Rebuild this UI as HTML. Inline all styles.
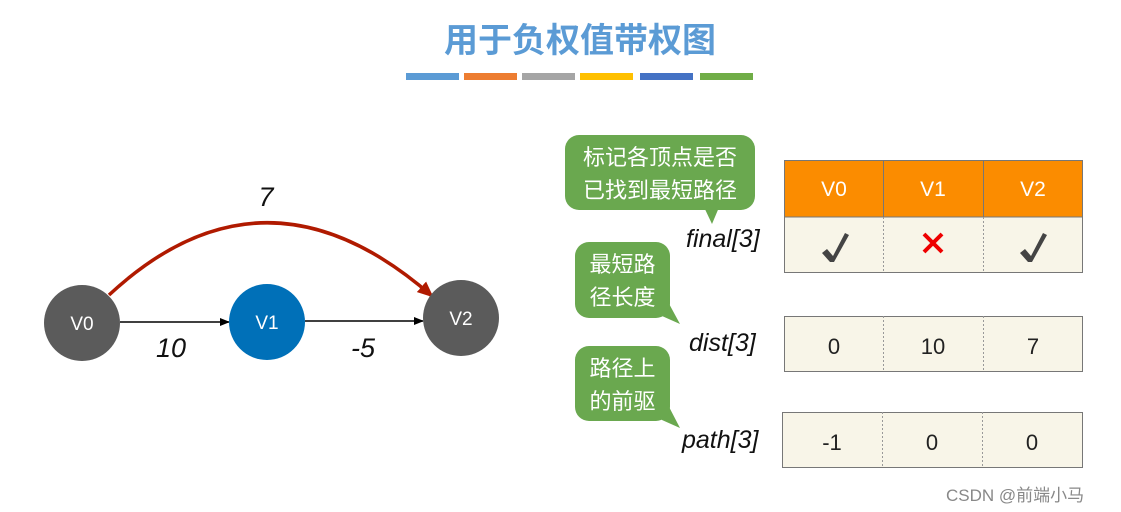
<!DOCTYPE html>
<html><head><meta charset="utf-8"><style>
body{margin:0;width:1121px;height:512px;background:#fff;position:relative;overflow:hidden;font-family:"Liberation Sans","Noto Sans CJK SC",sans-serif}
.a{position:absolute}
.bar{position:absolute;top:73px;height:7px;width:53px}
.bub{position:absolute;background:#6aa84f;color:#fff;border-radius:14px;font-size:22px;line-height:33px;text-align:center;font-family:"Noto Sans CJK SC",sans-serif}
.lbl{position:absolute;font-style:italic;font-size:25px;color:#111}
</style></head><body>
<div class="a" style="left:0;width:1160px;top:13px;text-align:center;font-size:34px;font-weight:bold;color:#5b9bd5;font-family:'Noto Sans CJK SC',sans-serif">用于负权值带权图</div>
<div class="bar" style="left:406px;background:#5b9bd5"></div>
<div class="bar" style="left:464px;background:#ed7d31"></div>
<div class="bar" style="left:522px;background:#a5a5a5"></div>
<div class="bar" style="left:580px;background:#ffc000"></div>
<div class="bar" style="left:640px;background:#4472c4"></div>
<div class="bar" style="left:700px;background:#70ad47"></div>

<svg class="a" style="left:0;top:0" width="1121" height="512">
<defs>
<marker id="k" markerWidth="10" markerHeight="8" refX="9" refY="4" orient="auto" markerUnits="userSpaceOnUse"><path d="M0,0L10,4L0,8z" fill="#000"/></marker>
<marker id="r" markerWidth="16" markerHeight="14" refX="14" refY="7" orient="auto" markerUnits="userSpaceOnUse"><path d="M0,0L16,7L0,14z" fill="#b01a00"/></marker>
</defs>
<path d="M109,295 Q265,150 432,296" fill="none" stroke="#b01a00" stroke-width="3.5" marker-end="url(#r)"/>
<line x1="120" y1="322" x2="229" y2="322" stroke="#000" stroke-width="1.5" marker-end="url(#k)"/>
<line x1="305" y1="321" x2="423" y2="321" stroke="#000" stroke-width="1.5" marker-end="url(#k)"/>
<circle cx="82" cy="323" r="38" fill="#5b5b5b"/>
<circle cx="267" cy="322" r="38" fill="#0070b8"/>
<circle cx="461" cy="318" r="38" fill="#5b5b5b"/>
<g font-family="Liberation Sans" font-size="19" fill="#fff" text-anchor="middle">
<text x="82" y="330">V0</text><text x="267" y="329">V1</text><text x="461" y="325">V2</text></g>
<g font-family="Liberation Sans" font-size="27" font-style="italic" fill="#111" text-anchor="middle">
<text x="266" y="206">7</text><text x="171" y="357">10</text><text x="363" y="357">-5</text></g>
<rect x="784" y="160" width="299" height="57" fill="#fb8c00"/>
<rect x="784" y="217" width="299" height="56" fill="#f8f5e8"/>
<rect x="784" y="316" width="299" height="56" fill="#f8f5e8"/>
<rect x="782" y="412" width="301" height="56" fill="#f8f5e8"/>
<g stroke="#777" stroke-width="1" fill="none">
<rect x="784.5" y="160.5" width="298" height="112"/>
<line x1="784" y1="217" x2="1083" y2="217"/>
<rect x="784.5" y="316.5" width="298" height="55"/>
<rect x="782.5" y="412.5" width="300" height="55"/>
<line x1="883.5" y1="160" x2="883.5" y2="217"/><line x1="983.5" y1="160" x2="983.5" y2="217"/>
</g>
<g stroke="#999" stroke-width="1" stroke-dasharray="2,2">
<line x1="883.5" y1="217" x2="883.5" y2="273"/><line x1="983.5" y1="217" x2="983.5" y2="273"/>
<line x1="883.5" y1="316" x2="883.5" y2="372"/><line x1="983.5" y1="316" x2="983.5" y2="372"/>
<line x1="882.5" y1="412" x2="882.5" y2="468"/><line x1="982.5" y1="412" x2="982.5" y2="468"/>
</g>
<g font-family="Liberation Sans" font-size="21" fill="#fff" text-anchor="middle">
<text x="834" y="196">V0</text><text x="933" y="196">V1</text><text x="1033" y="196">V2</text></g>
<g font-family="Liberation Sans" font-size="22" fill="#222" text-anchor="middle">
<text x="834" y="354">0</text><text x="933" y="354">10</text><text x="1033" y="354">7</text>
<text x="832" y="450">-1</text><text x="932" y="450">0</text><text x="1032" y="450">0</text></g>
<path d="M822,253 L827,249 L833,256 L845,233 L849,235 L834,262 L830,262z" fill="#444"/>
<path d="M1020,253 L1025,249 L1031,256 L1043,233 L1047,235 L1032,262 L1028,262z" fill="#444"/>
<path d="M924,234 L942,252 M942,234 L924,252" stroke="#e00" stroke-width="4"/>
<path d="M703,205 L720,205 L712,224z" fill="#6aa84f"/>
<path d="M650,300 L667,300 L680,324 L662,316z" fill="#6aa84f"/>
<path d="M650,403 L667,403 L680,428 L662,420z" fill="#6aa84f"/>
</svg>
<div class="bub" style="left:565px;top:135px;width:190px;height:75px;padding-top:5px;box-sizing:border-box">标记各顶点是否<br>已找到最短路径</div>
<div class="bub" style="left:575px;top:242px;width:95px;height:76px;padding-top:5px;box-sizing:border-box">最短路<br>径长度</div>
<div class="bub" style="left:575px;top:346px;width:95px;height:75px;padding-top:5px;box-sizing:border-box">路径上<br>的前驱</div>
<div class="lbl" style="left:686px;top:225px">final[3]</div>
<div class="lbl" style="left:689px;top:329px">dist[3]</div>
<div class="lbl" style="left:682px;top:426px">path[3]</div>
<div class="a" style="left:946px;top:481px;font-size:17px;color:#888">CSDN @前端小马</div>
</body></html>
